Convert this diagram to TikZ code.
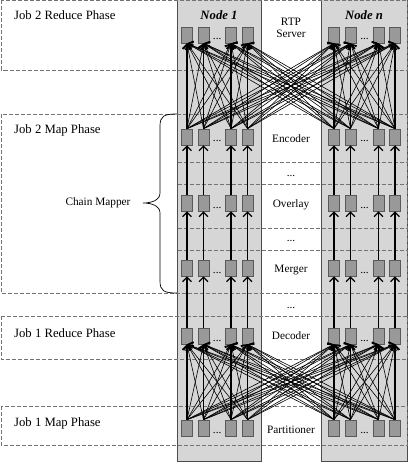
\documentclass[tikz,border=0pt]{standalone}
\usepackage{fontspec}
\setmainfont{Liberation Serif}
\usetikzlibrary{arrows.meta}

\begin{document}
\begin{tikzpicture}[x=1pt, y=-1pt,
  task/.style={draw=black!65, fill=black!40, line width=0.7pt, minimum width=11pt, minimum height=16pt, inner sep=0pt},
  nodecol/.style={draw=black!70, fill=black!16, line width=0.8pt},
  phase/.style={draw=black!55, dash pattern=on 4pt off 2pt, line width=0.5pt},
  flow/.style={line width=1.3pt, -{Straight Barb[length=4.5pt, width=9pt, line width=1.2pt]}},
  shuffle/.style={line width=0.6pt, -{Straight Barb[length=4.5pt, width=9pt, line width=1pt]}},
  stage/.style={font=\fontsize{11.3}{13}\selectfont, inner sep=0pt},
  phaselabel/.style={font=\fontsize{12.7}{15}\selectfont, inner sep=0pt}
]
  \useasboundingbox (0,0) rectangle (408,462);

  % node columns
  \draw[nodecol] (177.5,-2) rectangle (261,461);
  \draw[nodecol] (321,-2) rectangle (407,461);

  % phases
  \draw[phase] (1,0.5) rectangle (407,70);
  \draw[phase] (1,114) rectangle (407,293);
  \draw[phase] (1,316) rectangle (407,359);
  \draw[phase] (1,406) rectangle (407,445);
  \foreach \y in {162,184,228,250}
    \draw[phase] (177.5,\y) -- (407,\y);

  \node[phaselabel, anchor=west] (j2r) at (14,15) {Job 2 Reduce Phase};
  \node[phaselabel, anchor=west] (j2m) at (14,130) {Job 2 Map Phase};
  \node[phaselabel, anchor=west] (j1r) at (14,333) {Job 1 Reduce Phase};
  \node[phaselabel, anchor=west] (j1m) at (14,423) {Job 1 Map Phase};

  \node[phaselabel] (n1) at (219,15) {\textbf{\textit{Node 1}}};
  \node[phaselabel] (nn) at (364,15) {\textbf{\textit{Node n}}};

  % tasks
  \foreach \r/\y in {r/35, e/137, o/203, m/268, d/336, p/428} {
    \foreach \i/\x in {1/187, 2/203.5, 3/231, 4/247.5, 5/334, 6/350.5, 7/378.5, 8/395}
      \node[task] (\r\i) at (\x,\y) {};
    \node[stage, anchor=base] (\r dl) at (217.2,\y+5) {...};
    \node[stage, anchor=base] (\r dr) at (364.5,\y+5) {...};
  }

  % stage names
  \node[stage, align=center] (rtp) at (291,28) {RTP\\[-1pt]Server};
  \node[stage] (enc) at (291,139) {Encoder};
  \node[stage, anchor=base] (gap1) at (291,176) {...};
  \node[stage] (ovl) at (291,205) {Overlay};
  \node[stage, anchor=base] (gap2) at (291,241) {...};
  \node[stage] (mrg) at (291,270) {Merger};
  \node[stage, anchor=base] (gap3) at (291,308) {...};
  \node[stage] (dec) at (291,336) {Decoder};
  \node[stage] (prt) at (291,430) {Partitioner};

  % shuffles
  \foreach \i in {1,...,8}
    \foreach \j in {1,...,8} {
      \draw[shuffle] (e\i.north) -- (r\j.south);
      \draw[shuffle] (p\i.north) -- (d\j.south);
    }

  % chained map steps
  \foreach \i in {1,...,8} {
    \draw[flow] (e\i.north) -- (r\i.south);
    \draw[flow] (p\i.north) -- (d\i.south);
    \draw[flow] (d\i.north) -- (m\i.south);
    \draw[flow] (m\i.north) -- (o\i.south);
    \draw[flow] (o\i.north) -- (e\i.south);
  }

  % chain mapper brace
  \draw[line width=0.7pt] (177,114) .. controls (164,114) and (160,116) .. (160,126)
    -- (160,193) .. controls (160,200) and (152,203) .. (143,203)
    .. controls (152,203) and (160,206) .. (160,213)
    -- (160,281) .. controls (160,291) and (164,293) .. (177,293);
  \node[stage] (cm) at (98,203) {Chain Mapper};
\end{tikzpicture}
\end{document}
